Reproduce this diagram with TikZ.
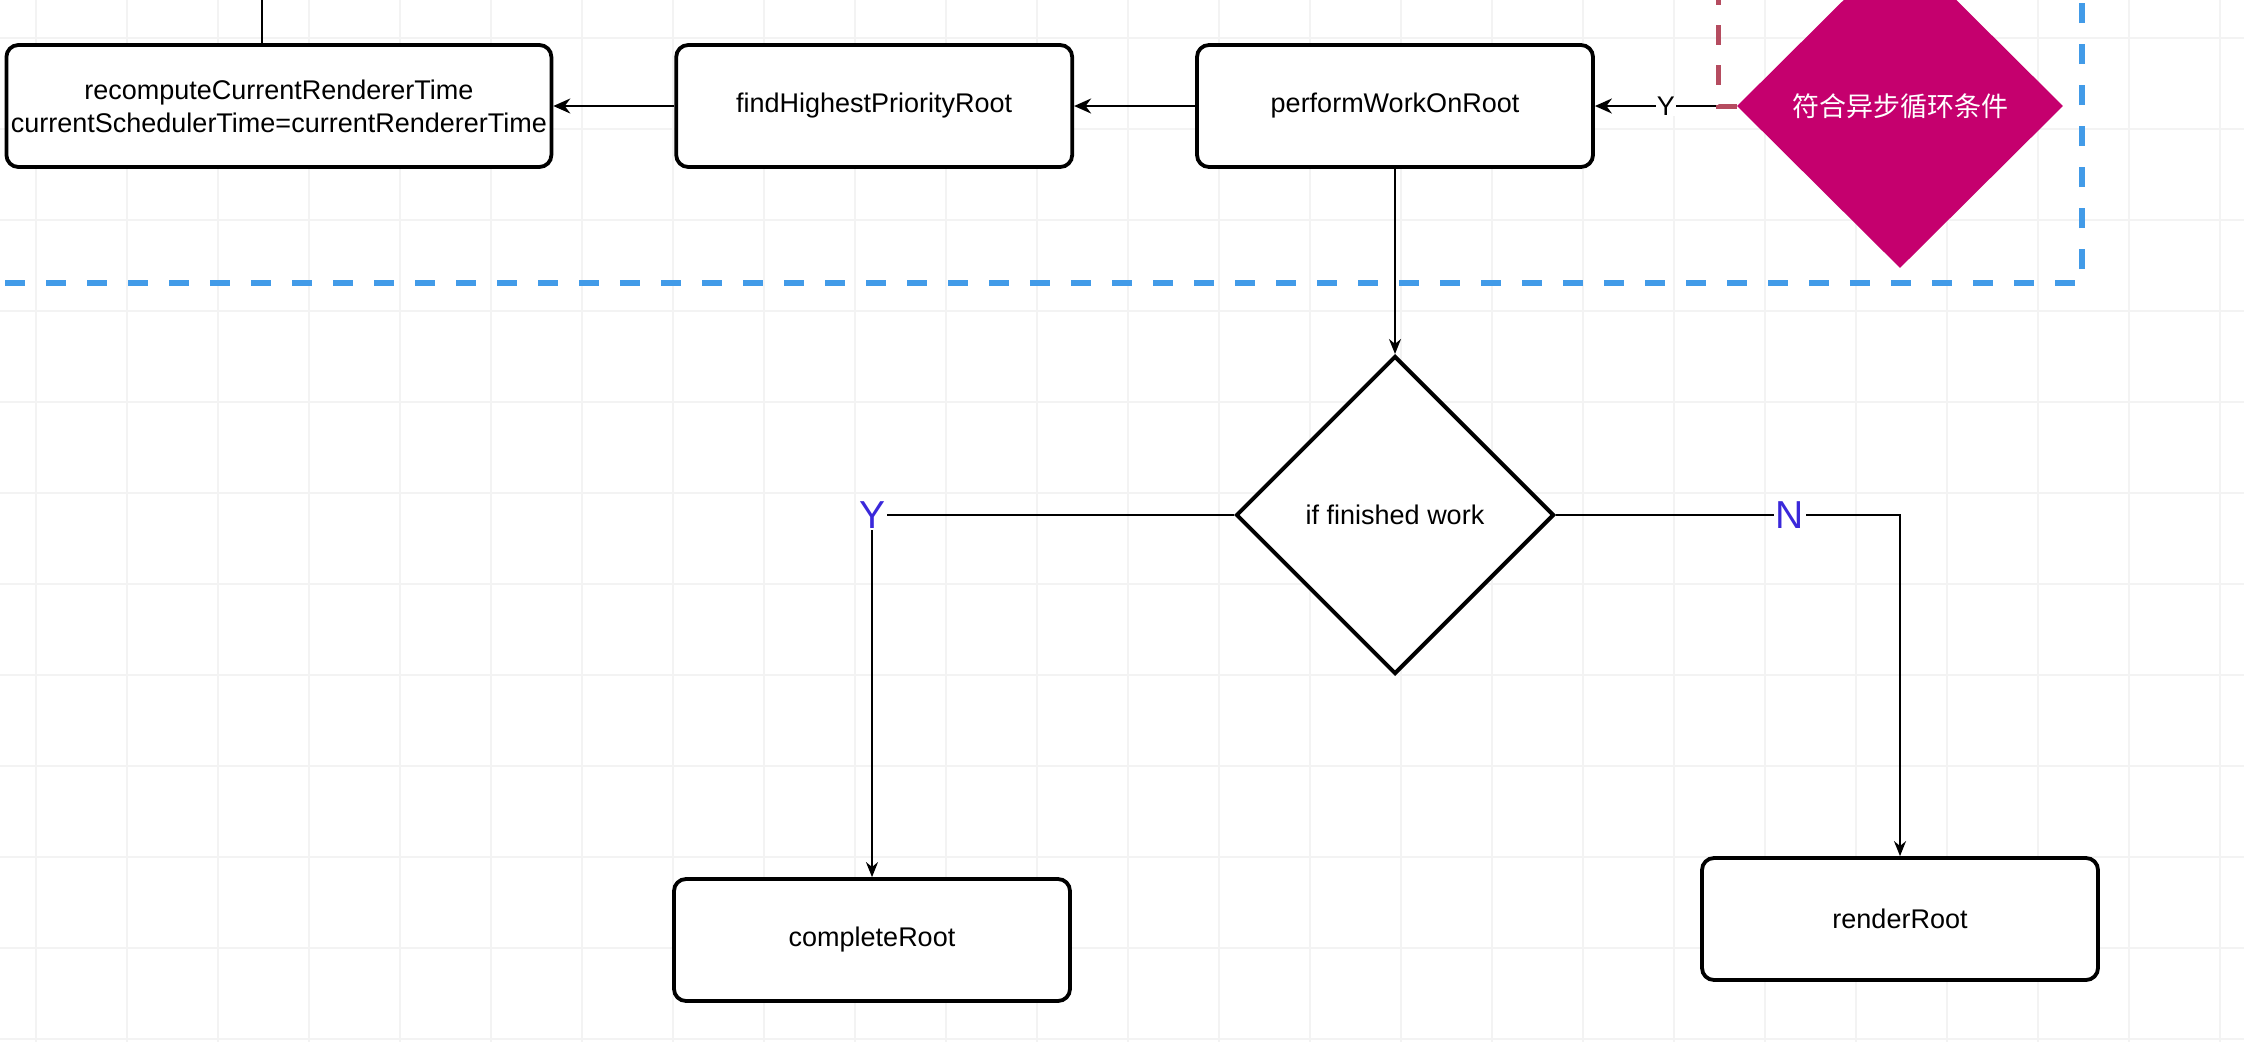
\documentclass[tikz,border=0pt]{standalone}
\usepackage{fontspec}
\setmainfont{Liberation Sans}
\newfontfamily\cjk{Noto Sans CJK SC}
\usepackage{xcolor}
\definecolor{myblue}{RGB}{66,155,232}
\definecolor{mymaroon}{RGB}{181,76,96}
\definecolor{mymagenta}{RGB}{197,0,110}
\definecolor{myviolet}{RGB}{58,40,218}
\definecolor{mygrid}{RGB}{243,243,243}
\usepackage{tikz}
\usetikzlibrary{shapes.geometric,arrows.meta,positioning}
\tikzstyle{process} = [draw=black, fill=white, line width=3.8pt, rectangle, rounded corners=12pt,
    minimum width=396pt, minimum height=122pt, align=center, font=\fontsize{27pt}{33pt}\selectfont]
\tikzstyle{decision} = [diamond, draw=black, fill=white, line width=4pt, inner sep=0pt,
    minimum width=318pt, minimum height=318pt, font=\fontsize{27pt}{33pt}\selectfont]
\tikzstyle{condition} = [diamond, fill=mymagenta, text=white, inner sep=0pt,
    minimum width=326pt, minimum height=324pt, font=\cjk\fontsize{27pt}{33pt}\selectfont]
\tikzstyle{arrow} = [line width=2.2pt,-{Stealth[length=17pt,width=15pt]}]
\tikzstyle{thinarrow} = [line width=1.8pt,-{Stealth[length=15pt,width=12pt]}]
\tikzstyle{flag} = [fill=white, inner sep=2pt, text=myviolet, font=\fontsize{39pt}{39pt}\selectfont]

\begin{document}
\begin{tikzpicture}[x=1pt,y=-1pt]
\clip (0,0) rectangle (2244,1042);
\fill[white] (0,0) rectangle (2244,1042);
% grid
\foreach \gx in {36,127,...,2244} \draw[mygrid, line width=1.2pt] (\gx,0) -- (\gx,1042);
\foreach \gy in {38,129,...,1042} \draw[mygrid, line width=1.2pt] (0,\gy) -- (2244,\gy);
% loop area
\draw[myblue, line width=6pt, dash pattern=on 20pt off 21pt] (-20,-20) rectangle (2082,283);

\node[process] (perform) at (1395,106) {performWorkOnRoot};
\node[process, left=121pt of perform] (find) {findHighestPriorityRoot};
\node[process, left=121pt of find, minimum width=545pt, inner xsep=1pt] (recompute)
    {recomputeCurrentRendererTime\\currentSchedulerTime=currentRendererTime};
\node[condition] (cond) at (1900,106) {符合异步循环条件};
\node[decision] (finished) at (1395,515) {if finished work};
\node[process] (complete) at (872,940) {completeRoot};
\node[process] (render) at (1900,919) {renderRoot};

\coordinate (intop) at (262,-5);
\coordinate (looptop) at (1718,-15);
\draw[line width=2pt] (intop) -- (intop |- recompute.north);
\draw[arrow] (cond.west) -- node[fill=white, inner sep=1pt, font=\fontsize{27pt}{33pt}\selectfont] {Y} (perform.east);
\draw[mymaroon, line width=5pt, dash pattern=on 20pt off 20pt] (looptop) |- (cond.west);
\draw[arrow] (perform.west) -- (find.east);
\draw[arrow] (find.west) -- (recompute.east);
\draw[thinarrow] (perform.south) -- (finished.north);
\draw[thinarrow] (finished.west) -| node[flag, pos=0.5] {Y} (complete.north);
\draw[thinarrow] (finished.east) -| node[flag, pos=0.34] {N} (render.north);
\end{tikzpicture}
\end{document}
